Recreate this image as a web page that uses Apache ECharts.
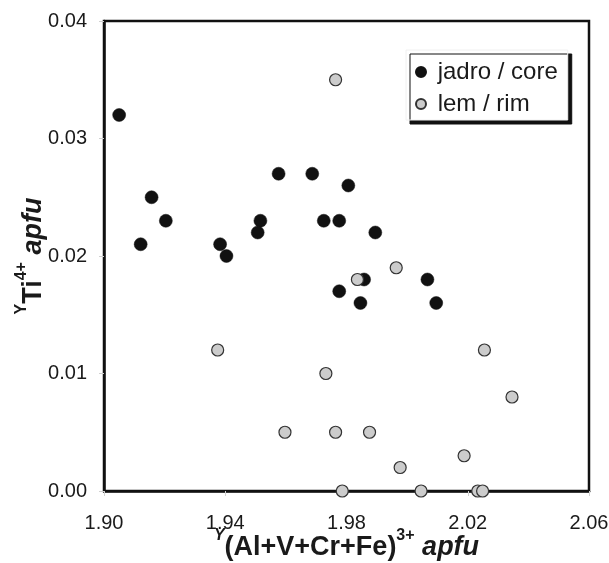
<!DOCTYPE html>
<html>
<head>
<meta charset="utf-8">
<script src="https://cdn.jsdelivr.net/npm/echarts@6/dist/echarts.min.js"></script>
<style>
html,body{margin:0;padding:0;background:#fff;}
#chart{width:609px;height:563px;}
</style>
</head>
<body>
<div id="chart"></div>
<script>
// Data
const coreX = [1.905, 1.9576, 1.9687, 1.9806, 1.9157, 1.9204, 1.9516, 1.9725, 1.9776, 1.9507, 1.9895, 1.9121, 1.9383, 1.9404, 1.9858, 2.0067, 1.9776, 1.9846, 2.0096];
const coreY = [0.032, 0.027, 0.027, 0.026, 0.025, 0.023, 0.023, 0.023, 0.023, 0.022, 0.022, 0.021, 0.021, 0.020, 0.018, 0.018, 0.017, 0.016, 0.016];
const rimX = [1.9764, 1.9964, 1.9836, 1.9375, 2.0255, 1.9732, 2.0346, 1.9597, 1.9764, 1.9876, 2.0188, 1.9977, 1.9786, 2.0046, 2.0233, 2.0249];
const rimY = [0.035, 0.019, 0.018, 0.012, 0.012, 0.010, 0.008, 0.005, 0.005, 0.005, 0.003, 0.002, 0, 0, 0, 0];
const seriesNames = ['jadro / core', 'lem / rim'];
const xTicks = [1.90, 1.94, 1.98, 2.02, 2.06];
const yTicks = [0.00, 0.01, 0.02, 0.03, 0.04];

const FONT = "'Liberation Sans', Arial, sans-serif";
const pairs = (xs, ys) => xs.map((x, i) => [x, ys[i]]);

const chart = echarts.init(document.getElementById('chart'), null, {renderer: 'canvas'});

const sup = {fontSize: 16, fontWeight: 'bold', fontFamily: FONT, color: '#1a1a1a', verticalAlign: 'top', lineHeight: 14};
const supI = Object.assign({}, sup, {fontStyle: 'italic'});

chart.setOption({
  animation: false,
  backgroundColor: '#fff',
  grid: {
    left: 104, right: 20, top: 21, bottom: 72,
    outerBoundsMode: 'none', containLabel: false,
    show: true, borderColor: '#111', borderWidth: 2.5, backgroundColor: 'transparent'
  },
  xAxis: {
    type: 'value',
    min: xTicks[0], max: xTicks[xTicks.length - 1], interval: 0.04,
    axisLine: {show: true, onZero: false, lineStyle: {color: '#111', width: 2.5}},
    axisTick: {show: true, length: 5, lineStyle: {color: '#d0d0d0', width: 1}},
    splitLine: {show: false},
    axisLabel: {fontSize: 20, fontFamily: FONT, color: '#1a1a1a', margin: 22,
      formatter: v => v.toFixed(2)},
    name: '{s|Y}{m|(Al+V+Cr+Fe)}{p|3+}{i| apfu}',
    nameLocation: 'middle',
    nameGap: 37,
    nameMoveOverlap: false,
    nameTextStyle: {
      rich: {
        s: supI,
        p: sup,
        m: {fontSize: 27, fontWeight: 'bold', fontFamily: FONT, color: '#1a1a1a', lineHeight: 40},
        i: {fontSize: 27, fontWeight: 'bold', fontStyle: 'italic', fontFamily: FONT, color: '#1a1a1a', lineHeight: 40}
      }
    }
  },
  yAxis: {
    type: 'value',
    min: yTicks[0], max: yTicks[yTicks.length - 1], interval: 0.01,
    axisLine: {show: true, onZero: false, lineStyle: {color: '#111', width: 2.5}},
    axisTick: {show: true, length: 5, lineStyle: {color: '#d0d0d0', width: 1}},
    splitLine: {show: false},
    axisLabel: {fontSize: 20, fontFamily: FONT, color: '#1a1a1a', margin: 17,
      formatter: v => v.toFixed(2)},
    name: '{s|Y}{m|Ti}{p|4+}{i| apfu}',
    nameLocation: 'middle',
    nameGap: 50,
    nameMoveOverlap: false,
    nameTextStyle: {
      rich: {
        s: sup,
        p: sup,
        m: {fontSize: 27, fontWeight: 'bold', fontFamily: FONT, color: '#1a1a1a', lineHeight: 40},
        i: {fontSize: 27, fontWeight: 'bold', fontStyle: 'italic', fontFamily: FONT, color: '#1a1a1a', lineHeight: 40}
      }
    }
  },
  legend: {
    data: seriesNames,
    orient: 'vertical',
    left: 406, top: 50,
    padding: [10, 10, 4, 9],
    itemWidth: 10, itemHeight: 10, itemGap: 8,
    backgroundColor: '#fff',
    borderColor: '#f0f0f0', borderWidth: 1,
    shadowColor: '#111', shadowBlur: 0, shadowOffsetX: 4, shadowOffsetY: 4,
    formatter: n => ' ' + n,
    textStyle: {fontSize: 24, fontFamily: FONT, color: '#1a1a1a'}
  },
  series: [
    {
      name: seriesNames[0], type: 'scatter', clip: false,
      symbol: 'circle', symbolSize: 13,
      itemStyle: {color: '#111', borderColor: '#111', borderWidth: 0.5, opacity: 1},
      data: pairs(coreX, coreY)
    },
    {
      name: seriesNames[1], type: 'scatter', clip: false,
      symbol: 'circle', symbolSize: 12,
      itemStyle: {color: '#cccccc', borderColor: '#333', borderWidth: 1.2, opacity: 1},
      data: pairs(rimX, rimY)
    }
  ]
});
</script>
</body>
</html>
